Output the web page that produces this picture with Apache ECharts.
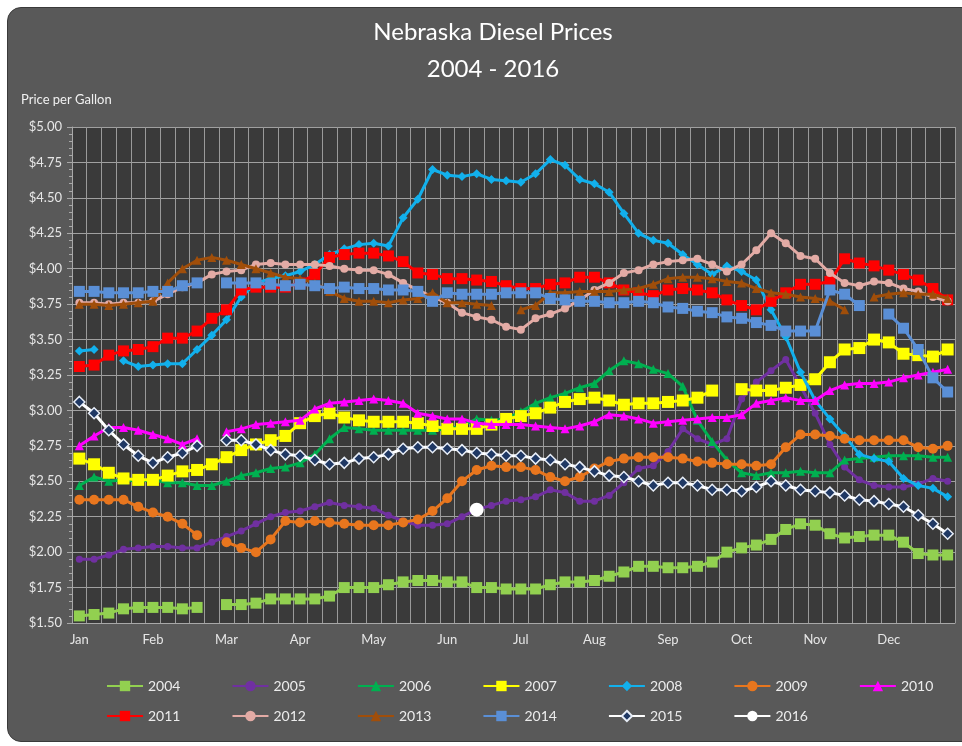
<!DOCTYPE html>
<html>
<head>
<meta charset="utf-8">
<script src="https://cdn.jsdelivr.net/npm/echarts@6/dist/echarts.min.js"></script>
<style>
  html, body { margin: 0; padding: 0; background: #ffffff; width: 962px; height: 746px; overflow: hidden; }
  #frame { position: absolute; left: 7px; top: 7px; width: 970px; height: 735px; border-radius: 14px;
           background: #595959; border: 1.5px solid #3a3a3a; box-sizing: border-box; }
  #chart { position: absolute; left: 0; top: 0; width: 962px; height: 746px; }
</style>
</head>
<body>
<div id="frame"></div>
<div id="chart"></div>
<script>
// ---- Data (weekly slots: 5 per month, null = no 5th week) ----
const MONTHS = ['Jan','Feb','Mar','Apr','May','Jun','Jul','Aug','Sep','Oct','Nov','Dec'];
const Y_TICKS = [1.5, 1.75, 2, 2.25, 2.5, 2.75, 3, 3.25, 3.5, 3.75, 4, 4.25, 4.5, 4.75, 5];
const YEARS = ['2004','2005','2006','2007','2008','2009','2010','2011','2012','2013','2014','2015','2016'];

const y2004 = [1.55,1.56,1.57,1.60,1.61, 1.61,1.61,1.60,1.61,null, 1.63,1.63,1.64,1.67,1.67, 1.67,1.67,1.69,1.75,1.75, 1.75,1.77,1.79,1.80,1.80, 1.79,1.79,1.75,1.75,1.74, 1.74,1.74,1.77,1.79,1.79, 1.80,1.83,1.86,1.90,1.90, 1.89,1.89,1.90,1.93,2.00, 2.03,2.05,2.09,2.16,2.20, 2.19,2.13,2.10,2.11,2.12, 2.12,2.07,1.99,1.98,1.98];
const y2005 = [1.95,1.95,1.98,2.02,2.03, 2.04,2.04,2.03,2.03,2.07, 2.11,2.15,2.20,2.25,2.28, 2.29,2.32,2.35,2.33,2.32, 2.31,2.26,2.22,2.19,2.19, 2.20,2.25,2.30,2.33,2.36, 2.37,2.39,2.44,2.42,2.36, 2.36,2.40,2.49,2.59,2.61, 2.71,2.87,2.80,2.76,2.80, 3.08,3.20,3.28,3.36,3.17, 2.98,2.76,2.60,2.51,2.47, 2.46,2.46,2.48,2.52,2.50];
const y2006 = [2.47,2.53,2.50,2.51,2.50, 2.51,2.49,2.49,2.47,2.47, 2.50,2.54,2.56,2.59,2.60, 2.63,2.69,2.80,2.88,2.87, 2.86,2.86,2.86,2.86,2.86, 2.87,2.89,2.94,2.93,2.94, 2.99,3.05,3.09,3.12,3.16, 3.19,3.28,3.35,3.33,3.29, 3.26,3.17,2.93,2.78,2.65, 2.56,2.54,2.56,2.56,2.57, 2.56,2.56,2.65,2.66,2.67, 2.68,2.68,2.68,2.67,2.67];
const y2007 = [2.66,2.62,2.56,2.52,2.51, 2.51,2.54,2.57,2.58,2.62, 2.67,2.72,2.76,2.79,2.82, 2.91,2.96,2.98,2.95,2.93, 2.92,2.92,2.92,2.91,2.89, 2.87,2.87,2.87,2.90,2.94, 2.96,2.98,3.02,3.06,3.08, 3.09,3.07,3.04,3.05,3.05, 3.06,3.07,3.09,3.14,null, 3.15,3.14,3.14,3.16,3.18, 3.22,3.34,3.43,3.44,3.50, 3.48,3.40,3.39,3.38,3.43];
const y2008 = [3.42,3.43,null,3.35,3.31, 3.32,3.33,3.33,3.43,3.53, 3.64,3.80,3.90,3.93,3.95, 3.98,4.03,4.10,4.14,4.17, 4.18,4.16,4.36,4.49,4.70, 4.66,4.65,4.67,4.63,4.62, 4.61,4.67,4.77,4.73,4.63, 4.60,4.54,4.39,4.25,4.20, 4.18,4.10,4.03,3.96,4.02, 3.98,3.92,3.71,3.52,3.27, 3.07,2.94,2.82,2.69,2.66, 2.64,2.52,2.47,2.45,2.39];
const y2009 = [2.37,2.37,2.37,2.37,2.32, 2.28,2.25,2.20,2.12,null, 2.07,2.03,2.00,2.09,2.22, 2.21,2.22,2.21,2.20,2.19, 2.19,2.19,2.21,2.23,2.29, 2.38,2.50,2.58,2.61,2.60, 2.60,2.58,2.53,2.50,2.53, 2.59,2.64,2.66,2.67,2.67, 2.67,2.66,2.64,2.63,2.62, 2.62,2.61,2.62,2.74,2.83, 2.83,2.82,2.80,2.79,2.79, 2.79,2.79,2.74,2.73,2.75];
const y2010 = [2.75,2.82,2.88,2.88,2.86, 2.83,2.80,2.76,2.80,null, 2.85,2.87,2.90,2.91,2.92, 2.93,3.01,3.05,3.06,3.07, 3.08,3.07,3.05,2.98,2.96, 2.94,2.94,2.91,2.90,2.90, 2.90,2.89,2.88,2.87,2.89, 2.92,2.97,2.96,2.94,2.91, 2.92,2.93,2.94,2.95,2.95, 2.97,3.05,3.07,3.09,3.07, 3.07,3.14,3.18,3.19,3.19, 3.20,3.23,3.25,3.27,3.29];
const y2011 = [3.31,3.32,3.39,3.42,3.43, 3.45,3.51,3.51,3.56,3.65, 3.71,3.85,3.87,3.87,3.87, 3.90,3.96,4.08,4.10,4.11, 4.11,4.09,4.05,3.97,3.96, 3.93,3.93,3.92,3.91,3.88, 3.86,3.86,3.89,3.90,3.94, 3.94,3.90,3.85,3.83,3.81, 3.85,3.86,3.85,3.83,3.78, 3.74,3.71,3.77,3.83,3.89, 3.89,3.91,4.07,4.04,4.02, 3.99,3.96,3.92,3.86,3.78];
const y2012 = [3.76,3.76,3.75,3.76,3.76, 3.77,3.82,3.87,3.90,3.96, 3.98,3.99,4.03,4.04,4.03, 4.03,4.03,4.02,4.00,3.99, 3.99,3.96,3.90,3.85,3.80, 3.76,3.69,3.66,3.64,3.59, 3.57,3.65,3.68,3.72,3.78, 3.85,3.90,3.97,3.99,4.03, 4.05,4.06,4.07,4.03,3.98, 4.03,4.13,4.25,4.18,4.09, 4.07,3.97,3.90,3.88,3.91, 3.90,3.86,3.84,3.80,3.77];
const y2013 = [3.75,3.75,3.74,3.75,3.76, 3.77,3.90,4.00,4.06,4.08, 4.06,4.03,4.00,3.97,3.94, 3.93,3.90,3.84,3.79,3.77, 3.77,3.76,3.78,3.79,3.83, 3.76,3.76,3.75,3.74,null, 3.71,3.74,3.83,3.83,3.84, 3.84,3.84,3.85,3.86,3.89, 3.93,3.94,3.94,3.93,3.91, 3.90,3.86,3.83,3.82,3.80, 3.79,3.77,3.71,null,3.80, 3.82,3.83,3.82,3.82,3.79];
const y2014 = [3.84,3.84,3.83,3.83,3.83, 3.84,3.84,3.88,3.90,null, 3.90,3.90,3.90,3.89,3.88, 3.89,3.88,3.86,3.87,3.86, 3.86,3.85,3.85,3.84,3.77, 3.83,3.82,3.82,3.82,3.83, 3.83,3.83,3.79,3.78,3.77, 3.77,3.76,3.76,3.77,3.76, 3.73,3.72,3.70,3.69,3.66, 3.65,3.62,3.60,3.56,3.56, 3.56,3.85,3.82,3.74,null, 3.68,3.58,3.43,3.23,3.13];
const y2015 = [3.06,2.98,2.86,2.76,2.68, 2.63,2.67,2.70,2.75,null, 2.79,2.79,2.76,2.72,2.69, 2.68,2.65,2.62,2.63,2.66, 2.67,2.69,2.73,2.74,2.74, 2.73,2.72,2.70,2.69,2.68, 2.68,2.66,2.65,2.62,2.60, 2.57,2.54,2.53,2.50,2.47, 2.49,2.49,2.47,2.44,2.44, 2.43,2.46,2.50,2.47,2.44, 2.43,2.42,2.40,2.37,2.36, 2.34,2.32,2.26,2.20,2.13];
const y2016 = [null,null,null,null,null, null,null,null,null,null, null,null,null,null,null, null,null,null,null,null, null,null,null,null,null, null,null,2.30,null,null, null,null,null,null,null, null,null,null,null,null, null,null,null,null,null, null,null,null,null,null, null,null,null,null,null, null,null,null,null,null];

const SERIES_VALUES = [y2004,y2005,y2006,y2007,y2008,y2009,y2010,y2011,y2012,y2013,y2014,y2015,y2016];

// ---- Styles ----
const FONT = 'Lato, "Liberation Sans", sans-serif';
const STYLE = {
  '2004': { color: '#92D050', symbol: 'rect', size: 11 },
  '2005': { color: '#7030A0', symbol: 'circle', size: 7 },
  '2006': { color: '#00B050', symbol: 'triangle', size: 9 },
  '2007': { color: '#FFFF00', symbol: 'rect', size: 12 },
  '2008': { color: '#12B0EC', symbol: 'diamond', size: 9 },
  '2009': { color: '#E8761E', symbol: 'circle', size: 10 },
  '2010': { color: '#FF00FF', symbol: 'triangle', size: 9 },
  '2011': { color: '#FF0000', symbol: 'rect', size: 11 },
  '2012': { color: '#E3ABA5', symbol: 'circle', size: 8 },
  '2013': { color: '#A04E0A', symbol: 'triangle', size: 9 },
  '2014': { color: '#5A8FD6', symbol: 'rect', size: 11 },
  '2015': { color: '#FFFFFF', symbol: 'diamond', size: 11, markerColor: '#1F3864', border: '#E8EEF8' },
  '2016': { color: '#FFFFFF', symbol: 'circle', size: 14 }
};

const categories = [];
MONTHS.forEach(m => { for (let w = 1; w <= 5; w++) categories.push(m + ' ' + w); });

const series = YEARS.map((yr, i) => {
  const s = STYLE[yr];
  return {
    name: yr,
    type: 'line',
    data: SERIES_VALUES[i],
    connectNulls: false,
    showAllSymbol: true,
    symbol: s.symbol,
    symbolSize: s.size,
    lineStyle: { color: s.color, width: 3 },
    itemStyle: {
      color: s.markerColor || s.color,
      borderColor: s.border || s.color,
      borderWidth: s.border ? 1.5 : 0
    },
    emphasis: { disabled: true },
    z: 2 + i
  };
});

const legendCommon = {
  left: 101,
  itemWidth: 36,
  itemHeight: 13,
  itemGap: 51,
  textStyle: { color: '#ECECEC', fontSize: 14, fontFamily: FONT },
  inactiveColor: '#999'
};

const chart = echarts.init(document.getElementById('chart'), null, { renderer: 'canvas' });
chart.setOption({
  backgroundColor: 'transparent',
  animation: false,
  title: [
    { text: 'Nebraska Diesel Prices\n2004 - 2016', left: 488, top: 9, textAlign: 'center',
      textStyle: { color: '#FFFFFF', fontSize: 24, fontWeight: 'normal', lineHeight: 37, fontFamily: FONT } },
    { text: 'Price per Gallon', left: 16, top: 88,
      textStyle: { color: '#F0F0F0', fontSize: 13, fontWeight: 'normal', fontFamily: FONT } }
  ],
  legend: [
    Object.assign({}, legendCommon, { top: 674, data: YEARS.slice(0, 7) }),
    Object.assign({}, legendCommon, { top: 704, data: YEARS.slice(7) })
  ],
  grid: { left: 72, right: 7, top: 127, bottom: 123, show: true, backgroundColor: '#3A3A3A', borderWidth: 0 },
  xAxis: {
    type: 'category',
    data: categories,
    boundaryGap: true,
    axisLine: { show: true, lineStyle: { color: '#A8A8A8', width: 1 } },
    axisTick: { show: false },
    axisLabel: {
      color: '#E6E6E6', fontSize: 13, fontFamily: FONT, margin: 10,
      interval: (idx) => idx % 5 === 0,
      formatter: (v) => v.split(' ')[0]
    },
    splitLine: { show: true, interval: 0, lineStyle: { color: '#9A9A9A', width: 1 } }
  },
  yAxis: {
    type: 'value',
    min: Y_TICKS[0],
    max: Y_TICKS[Y_TICKS.length - 1],
    interval: 0.25,
    axisLine: { show: true, lineStyle: { color: '#A8A8A8', width: 1 } },
    axisTick: { show: true, length: 5, lineStyle: { color: '#A8A8A8' } },
    minorTick: { show: true, splitNumber: 5, length: 3, lineStyle: { color: '#A8A8A8' } },
    axisLabel: {
      color: '#E6E6E6', fontSize: 13, fontFamily: FONT, margin: 10,
      formatter: (v) => '$' + v.toFixed(2)
    },
    splitLine: { show: true, lineStyle: { color: '#A0A0A0', width: 1 } }
  },
  series: series
});
</script>
</body>
</html>
